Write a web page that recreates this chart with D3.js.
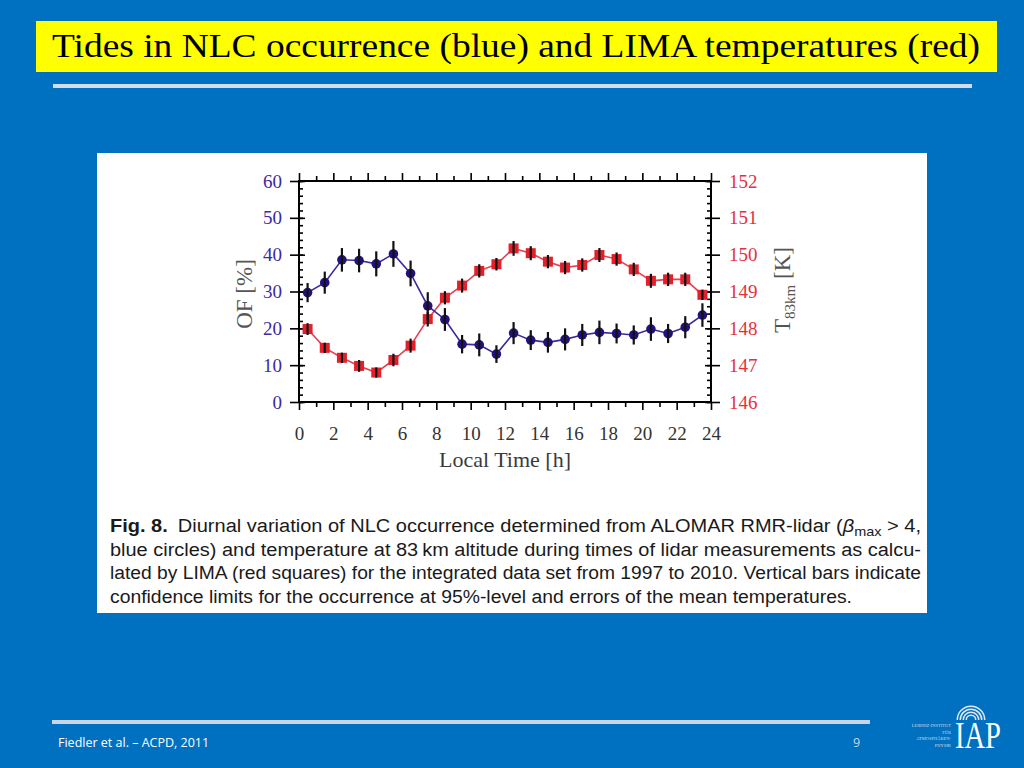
<!DOCTYPE html>
<html>
<head>
<meta charset="utf-8">
<script src="https://cdn.jsdelivr.net/npm/d3@7"></script>
<style>
  body { margin: 0; background: #0070c0; }
  svg { display: block; }
</style>
</head>
<body>
<div id="slide"></div>
<script>
// chart values
var hours = [0.5, 1.5, 2.5, 3.5, 4.5, 5.5, 6.5, 7.5, 8.5, 9.5, 10.5, 11.5,
             12.5, 13.5, 14.5, 15.5, 16.5, 17.5, 18.5, 19.5, 20.5, 21.5, 22.5, 23.5];

// NLC occurrence frequency [%] (blue circles) and 95% half-width
var ofValues = [29.7, 32.4, 38.6, 38.4, 37.5, 40.2, 34.9, 26.1, 22.4, 15.7, 15.5, 13.0,
                18.7, 16.8, 16.2, 17.0, 18.2, 18.9, 18.6, 18.2, 19.8, 18.6, 20.3, 23.6];
var ofErr = [2.6, 3.0, 3.2, 3.2, 3.4, 3.5, 3.5, 3.7, 3.1, 2.5, 3.1, 2.4,
             3.0, 2.7, 2.8, 3.0, 3.0, 3.2, 2.7, 2.6, 3.2, 2.6, 3.0, 3.2];

// LIMA temperature at 83 km [K] (red squares) and error of mean
var tValues = [147.98, 147.47, 147.20, 146.98, 146.80, 147.14, 147.53, 148.25, 148.83, 149.16, 149.56, 149.74,
               150.17, 150.04, 149.81, 149.65, 149.72, 149.99, 149.88, 149.60, 149.29, 149.33, 149.33, 148.91];
var tErr = [0.16, 0.14, 0.14, 0.16, 0.14, 0.17, 0.19, 0.20, 0.18, 0.19, 0.18, 0.17,
            0.20, 0.19, 0.18, 0.18, 0.18, 0.19, 0.18, 0.18, 0.19, 0.18, 0.18, 0.14];

var xTicks = [0, 2, 4, 6, 8, 10, 12, 14, 16, 18, 20, 22, 24];
var ofTicks = [0, 10, 20, 30, 40, 50, 60];
var tTicks = [146, 147, 148, 149, 150, 151, 152];

var captionLines = [
  "blue circles) and temperature at 83\u2009km altitude during times of lidar measurements as calcu-",
  "lated by LIMA (red squares) for the integrated data set from 1997 to 2010. Vertical bars indicate",
  "confidence limits for the occurrence at 95%-level and errors of the mean temperatures."
];
var captionWidths = [811, 811, 742];

var blue = "#24107a", blueLine = "#3a2a9c", blueText = "#3b2aa3";
var red = "#e2202c", redLine = "#e84050", redText = "#e5303c";

var svg = d3.select("#slide").append("svg")
  .attr("width", 1024)
  .attr("height", 768);

svg.append("rect").attr("width", 1024).attr("height", 768).attr("fill", "#0070c0");

// title bar
svg.append("rect")
  .attr("x", 36).attr("y", 21).attr("width", 961).attr("height", 51)
  .attr("fill", "#ffff00");
svg.append("text")
  .attr("x", 52).attr("y", 57)
  .attr("font-family", "Liberation Serif")
  .attr("font-size", 33)
  .attr("textLength", 928)
  .attr("lengthAdjust", "spacingAndGlyphs")
  .attr("fill", "black")
  .text("Tides in NLC occurrence (blue) and LIMA temperatures (red)");
svg.append("rect")
  .attr("x", 53).attr("y", 84).attr("width", 919).attr("height", 4)
  .attr("fill", "#d3dde9");

// white figure panel
svg.append("rect")
  .attr("x", 97).attr("y", 153).attr("width", 830).attr("height", 460)
  .attr("fill", "white");

var x = d3.scaleLinear().domain([0, 24]).range([299, 711]);
var yL = d3.scaleLinear().domain([0, 60]).range([402, 181]);
var yR = d3.scaleLinear().domain([146, 152]).range([402, 181]);

var chart = svg.append("g");

function tickOnly(g) {
  g.select(".domain").remove();
  g.selectAll("text").remove();
  g.selectAll("line").attr("stroke", "black").attr("stroke-width", 1.6);
}

// minor / inner ticks
chart.append("g").attr("transform", "translate(299,0)")
  .call(d3.axisRight(yL).tickValues(d3.range(0, 61, 2)).tickSize(4)).call(tickOnly);
chart.append("g").attr("transform", "translate(299,0)")
  .call(d3.axisRight(yL).tickValues(ofTicks).tickSize(6)).call(tickOnly);
chart.append("g").attr("transform", "translate(711,0)")
  .call(d3.axisLeft(yR).tickValues(d3.range(146, 152.01, 0.2)).tickSize(4)).call(tickOnly);
chart.append("g").attr("transform", "translate(711,0)")
  .call(d3.axisLeft(yR).tickValues(tTicks).tickSize(6)).call(tickOnly);
chart.append("g").attr("transform", "translate(0,181)")
  .call(d3.axisTop(x).tickValues(d3.range(1, 24, 2)).tickSize(5)).call(tickOnly);
chart.append("g").attr("transform", "translate(0,181)")
  .call(d3.axisTop(x).tickValues(xTicks).tickSize(8)).call(tickOnly);
chart.append("g").attr("transform", "translate(0,402)")
  .call(d3.axisBottom(x).tickValues(d3.range(1, 24, 2)).tickSize(5)).call(tickOnly);

// labelled axes
function styleAxis(g, color) {
  g.select(".domain").remove();
  g.selectAll("line").attr("stroke", "black").attr("stroke-width", 1.6);
  g.selectAll("text")
    .attr("font-family", "Liberation Serif")
    .attr("font-size", 19)
    .attr("fill", color);
}

chart.append("g").attr("transform", "translate(0,402)")
  .call(d3.axisBottom(x).tickValues(xTicks).tickSize(8).tickPadding(17))
  .call(styleAxis, "#333");
chart.append("g").attr("transform", "translate(299,0)")
  .call(d3.axisLeft(yL).tickValues(ofTicks).tickSize(9).tickPadding(8))
  .call(styleAxis, blueText);
chart.append("g").attr("transform", "translate(711,0)")
  .call(d3.axisRight(yR).tickValues(tTicks).tickFormat(d3.format("d")).tickSize(9).tickPadding(9))
  .call(styleAxis, redText);

chart.append("rect")
  .attr("x", 299).attr("y", 181).attr("width", 412).attr("height", 221)
  .attr("fill", "none").attr("stroke", "black").attr("stroke-width", 2);

// axis titles
chart.append("text")
  .attr("x", 505).attr("y", 467)
  .attr("text-anchor", "middle")
  .attr("font-family", "Liberation Serif").attr("font-size", 22)
  .attr("fill", "#3a3a3a")
  .text("Local Time [h]");

chart.append("text")
  .attr("transform", "translate(252,294) rotate(-90)")
  .attr("text-anchor", "middle")
  .attr("font-family", "Liberation Serif").attr("font-size", 23)
  .attr("fill", "#555")
  .text("OF [%]");

var tLab = chart.append("text")
  .attr("transform", "translate(790,290) rotate(-90)")
  .attr("text-anchor", "middle")
  .attr("font-family", "Liberation Serif").attr("font-size", 23)
  .attr("fill", "#555");
tLab.append("tspan").text("T");
tLab.append("tspan").attr("font-size", 15).attr("dy", 5).text("83km");
tLab.append("tspan").attr("dy", -5).text(" [K]");

// temperature series
var tData = hours.map(function (h, i) { return {h: h, v: tValues[i], e: tErr[i]}; });
var ofData = hours.map(function (h, i) { return {h: h, v: ofValues[i], e: ofErr[i]}; });

chart.append("path")
  .datum(tData)
  .attr("fill", "none").attr("stroke", redLine).attr("stroke-width", 1.6)
  .attr("d", d3.line().x(d => x(d.h)).y(d => yR(d.v)));

chart.selectAll(".sq")
  .data(tData)
  .enter()
  .append("rect")
  .attr("class", "sq")
  .attr("x", d => x(d.h) - 5)
  .attr("y", d => yR(d.v) - 5)
  .attr("width", 10).attr("height", 10)
  .attr("fill", red);

// occurrence series
chart.append("path")
  .datum(ofData)
  .attr("fill", "none").attr("stroke", blueLine).attr("stroke-width", 1.6)
  .attr("d", d3.line().x(d => x(d.h)).y(d => yL(d.v)));

chart.selectAll(".dot")
  .data(ofData)
  .enter()
  .append("circle")
  .attr("class", "dot")
  .attr("cx", d => x(d.h))
  .attr("cy", d => yL(d.v))
  .attr("r", 4.8)
  .attr("fill", blue);

// error bars
chart.selectAll(".ebT")
  .data(tData)
  .enter()
  .append("line")
  .attr("x1", d => x(d.h)).attr("x2", d => x(d.h))
  .attr("y1", d => yR(d.v - d.e)).attr("y2", d => yR(d.v + d.e))
  .attr("stroke", "#111").attr("stroke-width", 2.2);

chart.selectAll(".ebO")
  .data(ofData)
  .enter()
  .append("line")
  .attr("x1", d => x(d.h)).attr("x2", d => x(d.h))
  .attr("y1", d => yL(d.v - d.e)).attr("y2", d => yL(d.v + d.e))
  .attr("stroke", "#111").attr("stroke-width", 2.2);

// caption
var cap = svg.append("g")
  .attr("font-family", "Liberation Sans")
  .attr("font-size", 18)
  .attr("fill", "#1a1a1a");

var l1 = cap.append("text")
  .attr("x", 110).attr("y", 532)
  .attr("textLength", 811).attr("lengthAdjust", "spacingAndGlyphs");
l1.append("tspan").attr("font-weight", "bold").text("Fig. 8.");
l1.append("tspan").text("\u2002Diurnal variation of NLC occurrence determined from ALOMAR RMR-lidar (");
l1.append("tspan").attr("font-style", "italic").text("\u03b2");
l1.append("tspan").attr("font-size", 13).attr("dy", 4).text("max");
l1.append("tspan").attr("dy", -4).text(" > 4,");

captionLines.forEach(function (line, i) {
  cap.append("text")
    .attr("x", 110).attr("y", 555.5 + i * 23.5)
    .attr("textLength", captionWidths[i])
    .attr("lengthAdjust", "spacingAndGlyphs")
    .text(line);
});

// footer
svg.append("rect")
  .attr("x", 52).attr("y", 720).attr("width", 818).attr("height", 4)
  .attr("fill", "#c9d6e6");
svg.append("text")
  .attr("x", 58).attr("y", 747)
  .attr("font-family", "Liberation Sans Narrow, Open Sans")
  .attr("font-size", 12.5)
  .attr("fill", "white")
  .text("Fiedler et al. \u2013 ACPD, 2011");
svg.append("text")
  .attr("x", 853).attr("y", 747)
  .attr("font-family", "Liberation Sans Narrow, Open Sans")
  .attr("font-size", 12.5)
  .attr("fill", "#c9d6e6")
  .text("9");

// IAP logo
var logo = svg.append("g");
[4, 7, 10, 13].forEach(function (r) {
  logo.append("path")
    .attr("d", d3.arc()({innerRadius: r, outerRadius: r + 1.5, startAngle: -Math.PI / 2, endAngle: Math.PI / 2}))
    .attr("transform", "translate(971,720)")
    .attr("fill", "#dfe8f4");
});
logo.append("text")
  .attr("x", 955).attr("y", 748)
  .attr("font-family", "Liberation Serif")
  .attr("font-size", 37)
  .attr("textLength", 46)
  .attr("lengthAdjust", "spacingAndGlyphs")
  .attr("fill", "white")
  .text("IAP");
["LEIBNIZ-INSTITUT", "F\u00dcR", "ATMOSPH\u00c4REN-", "PHYSIK"].forEach(function (s, i) {
  logo.append("text")
    .attr("x", 951).attr("y", 727 + i * 6.5)
    .attr("text-anchor", "end")
    .attr("font-family", "Liberation Serif")
    .attr("font-size", 4.5)
    .attr("fill", "#cfdcee")
    .text(s);
});
</script>
</body>
</html>
